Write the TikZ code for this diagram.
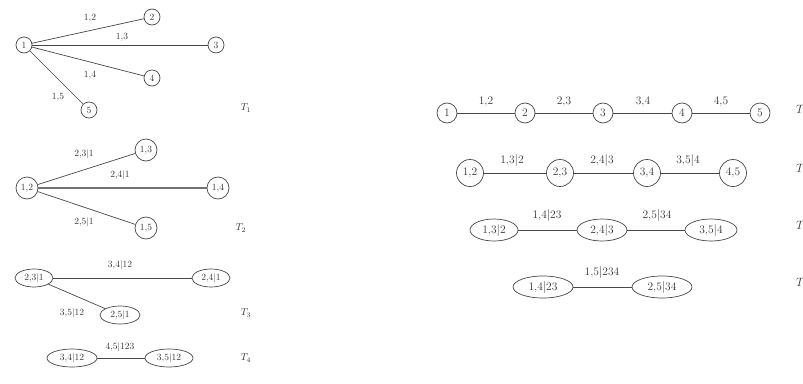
\documentclass[tikz,border=0pt]{standalone}
\usetikzlibrary{shapes.geometric}
\begin{document}
\begin{tikzpicture}[x=1pt, y=-1pt,
  edgeln/.style={draw=black!72, line width=0.7pt},
  thickln/.style={draw=black!55, line width=2.6pt},
  cnode/.style={circle, draw=black!72, line width=0.7pt, inner sep=0pt, text=black!80},
  enode/.style={ellipse, draw=black!72, line width=0.7pt, inner sep=0pt, text=black!80},
  lbl/.style={inner sep=0pt, text=black!80},
  tlbl/.style={inner sep=0pt, text=black!80},
]
\useasboundingbox (0,0) rectangle (803,383);

% ---------------- C-vine (left) ----------------
\begin{scope}[font=\fontsize{9.5}{11}\selectfont]
  % Tree T1
  \node[cnode, minimum size=16pt] (c1) at (24,45) {1};
  \node[cnode, minimum size=16pt] (c2) at (152,17) {2};
  \node[cnode, minimum size=16pt] (c3) at (216,45) {3};
  \node[cnode, minimum size=16pt] (c4) at (152,78) {4};
  \node[cnode, minimum size=16pt] (c5) at (89,110) {5};
  \draw[edgeln] (c1) -- (c2);
  \draw[edgeln] (c1) -- (c3);
  \draw[edgeln] (c1) -- (c4);
  \draw[edgeln] (c1) -- (c5);
  \node[lbl] (l12) at (90,18) {1,2};
  \node[lbl] (l13) at (122,37) {1,3};
  \node[lbl] (l14) at (90,75) {1,4};
  \node[lbl] (l15) at (58,97) {1,5};
  \node[tlbl, font=\fontsize{10}{11}\selectfont] (ct1) at (246,108) {$T_1$};

  % Tree T2
  \node[cnode, minimum size=22pt] (d12) at (27,188) {1,2};
  \node[cnode, minimum size=22pt] (d13) at (146,150) {1,3};
  \node[cnode, minimum size=22pt] (d14) at (218,188) {1,4};
  \node[cnode, minimum size=22pt] (d15) at (146,228) {1,5};
  \draw[edgeln] (d12) -- (d13);
  \draw[thickln] (d12) -- (d14);
  \draw[edgeln] (d12) -- (d15);
  \node[lbl] (l231) at (84,154) {2,3$|$1};
  \node[lbl] (l241) at (120,175) {2,4$|$1};
  \node[lbl] (l251) at (84,222) {2,5$|$1};
  \node[tlbl, font=\fontsize{10}{11}\selectfont] (ct2) at (241,228) {$T_2$};

  % Tree T3
  \node[enode, minimum width=38pt, minimum height=18pt] (e231) at (34,278) {2,3$|$1};
  \node[enode, minimum width=38pt, minimum height=18pt] (e241) at (211,278) {2,4$|$1};
  \node[enode, minimum width=40pt, minimum height=18pt] (e251) at (120,315) {2,5$|$1};
  \draw[edgeln] (e231) -- (e241);
  \draw[edgeln] (e231) -- (e251);
  \node[lbl] (l3412) at (120,265) {3,4$|$12};
  \node[lbl] (l3512) at (72,313) {3,5$|$12};
  \node[tlbl, font=\fontsize{10}{11}\selectfont] (ct3) at (246,313) {$T_3$};

  % Tree T4
  \node[enode, minimum width=50pt, minimum height=18pt] (f3412) at (72,358) {3,4$|$12};
  \node[enode, minimum width=48pt, minimum height=18pt] (f3512) at (169,358) {3,5$|$12};
  \draw[edgeln] (f3412) -- (f3512);
  \node[lbl] (l45123) at (120,347) {4,5$|$123};
  \node[tlbl, font=\fontsize{10}{11}\selectfont] (ct4) at (246,358) {$T_4$};
\end{scope}

% ---------------- D-vine (right) ----------------
\begin{scope}[font=\fontsize{11.5}{13}\selectfont]
  % Tree T1
  \node[cnode, minimum size=20pt] (g1) at (447,113) {1};
  \node[cnode, minimum size=20pt] (g2) at (525,113) {2};
  \node[cnode, minimum size=20pt] (g3) at (603,113) {3};
  \node[cnode, minimum size=20pt] (g4) at (682,113) {4};
  \node[cnode, minimum size=20pt] (g5) at (760,113) {5};
  \draw[edgeln] (g1) -- (g2);
  \draw[edgeln] (g2) -- (g3);
  \draw[edgeln] (g3) -- (g4);
  \draw[edgeln] (g4) -- (g5);
  \node[lbl] (m12) at (486,102) {1,2};
  \node[lbl] (m23) at (564,102) {2,3};
  \node[lbl] (m34) at (643,102) {3,4};
  \node[lbl] (m45) at (721,102) {4,5};
  \node[tlbl, anchor=west] (dt1) at (796,110) {$T_1$};

  % Tree T2
  \node[cnode, minimum size=27pt] (h12) at (470,173) {1,2};
  \node[cnode, minimum size=27pt] (h23) at (560,173) {2,3};
  \node[cnode, minimum size=27pt] (h34) at (647,173) {3,4};
  \node[cnode, minimum size=27pt] (h45) at (733,173) {4,5};
  \draw[edgeln] (h12) -- (h23);
  \draw[edgeln] (h23) -- (h34);
  \draw[edgeln] (h34) -- (h45);
  \node[lbl] (n132) at (512,160) {1,3$|$2};
  \node[lbl] (n243) at (602,160) {2,4$|$3};
  \node[lbl] (n354) at (688,160) {3,5$|$4};
  \node[tlbl, anchor=west] (dt2) at (796,169) {$T_2$};

  % Tree T3
  \node[enode, minimum width=48pt, minimum height=22pt] (p132) at (494,230) {1,3$|$2};
  \node[enode, minimum width=50pt, minimum height=22pt] (p243) at (602,230) {2,4$|$3};
  \node[enode, minimum width=52pt, minimum height=22pt] (p354) at (711,230) {3,5$|$4};
  \draw[edgeln] (p132) -- (p243);
  \draw[edgeln] (p243) -- (p354);
  \node[lbl] (q1423) at (547,215) {1,4$|$23};
  \node[lbl] (q2534) at (657,215) {2,5$|$34};
  \node[tlbl, anchor=west] (dt3) at (796,226) {$T_3$};

  % Tree T4
  \node[enode, minimum width=60pt, minimum height=22pt] (r1423) at (543,287) {1,4$|$23};
  \node[enode, minimum width=60pt, minimum height=22pt] (r2534) at (662,287) {2,5$|$34};
  \draw[edgeln] (r1423) -- (r2534);
  \node[lbl] (s15234) at (602,272) {1,5$|$234};
  \node[tlbl, anchor=west] (dt4) at (796,283) {$T_4$};
\end{scope}
\end{tikzpicture}
\end{document}
